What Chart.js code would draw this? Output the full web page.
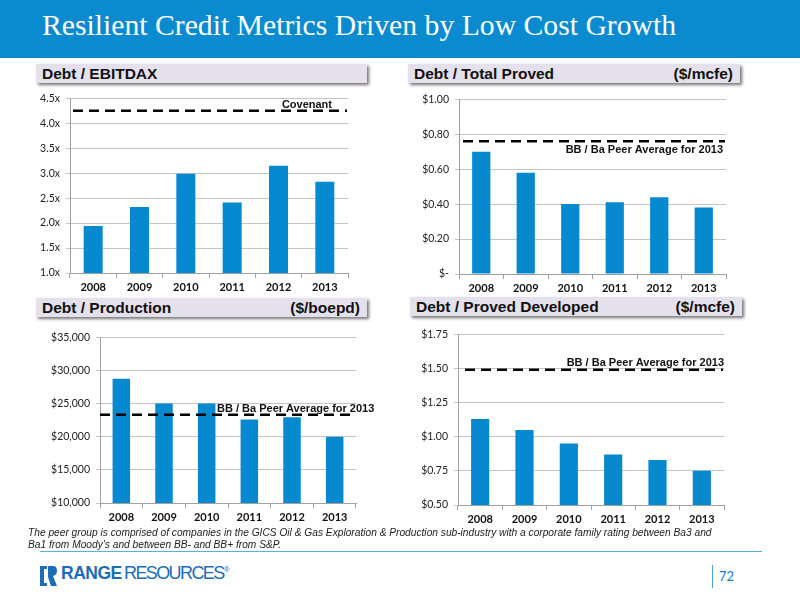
<!DOCTYPE html>
<html>
<head>
<meta charset="utf-8">
<script src="https://cdn.jsdelivr.net/npm/chart.js@4.4.1/dist/chart.umd.min.js"></script>
<style>
  body { margin: 0; background: #fff; }
  #slide { position: relative; width: 800px; height: 600px; overflow: hidden; background: #fff; font-family: "Liberation Sans", Arial, sans-serif; }
  #header { position: absolute; left: 0; top: 0; width: 800px; height: 58px; background: #0a8acf; }
  #header h1 { position: absolute; left: 42px; top: 9px; margin: 0; font: 29.7px "Liberation Serif", serif; color: #fff; font-weight: normal; white-space: nowrap; }
  .box { position: absolute; background: #e4e1ec; box-shadow: 2px 2px 3px rgba(0,0,0,0.55); font-weight: bold; font-size: 15.5px; color: #111; line-height: 19px; }
  .box .l { position: absolute; left: 6px; top: 0; }
  .box .r { position: absolute; right: 7px; top: 0; }
  .chart { position: absolute; }
  #note { position: absolute; left: 28px; top: 527px; width: 760px; font-style: italic; font-size: 10.2px; line-height: 11.5px; color: #222; white-space: nowrap; }
  #sep { position: absolute; left: 40px; top: 551px; width: 722px; height: 1px; background: #5aaee0; }
  #logo { position: absolute; left: 40px; top: 564px; height: 24px; color: #1b6db5; white-space: nowrap; }
  #logo .rg { position: absolute; left: 21px; top: -1px; font-weight: bold; font-size: 17.5px; letter-spacing: -0.5px; }
  #logo .rs { position: absolute; left: 84px; top: -1px; font-size: 18px; letter-spacing: -1.6px; }
  #pg { position: absolute; left: 712px; top: 565px; height: 23px; border-left: 1px solid #4aa3dc; padding-left: 6px; font: 13px Lato, sans-serif; color: #1b7cc0; line-height: 23px; }
</style>
</head>
<body>
<div id="slide">
  <div id="header"><h1>Resilient Credit Metrics Driven by Low Cost Growth</h1></div>

  <div class="box" style="left:36px;top:64px;width:331px;height:19px;"><span class="l">Debt / EBITDAX</span></div>
  <div class="box" style="left:408px;top:64px;width:332px;height:19px;"><span class="l">Debt / Total Proved</span><span class="r">($/mcfe)</span></div>
  <div class="box" style="left:36px;top:298px;width:331px;height:19px;"><span class="l">Debt / Production</span><span class="r">($/boepd)</span></div>
  <div class="box" style="left:410px;top:297px;width:332px;height:19px;"><span class="l">Debt / Proved Developed</span><span class="r">($/mcfe)</span></div>

  <div class="chart" style="left:20px;top:86px;"><canvas id="c1" width="345" height="210"></canvas></div>
  <div class="chart" style="left:405px;top:87px;"><canvas id="c2" width="340" height="210"></canvas></div>
  <div class="chart" style="left:30px;top:325px;"><canvas id="c3" width="355" height="202"></canvas></div>
  <div class="chart" style="left:400px;top:322px;"><canvas id="c4" width="345" height="206"></canvas></div>

  <div id="note">The peer group is comprised of companies in the GICS Oil &amp; Gas Exploration &amp; Production sub-industry with a corporate family rating between Ba3 and<br>Ba1 from Moody’s and between BB- and BB+ from S&amp;P.</div>
  <div id="sep"></div>

  <div id="logo">
    <svg width="17" height="20" viewBox="0 0 17 20" style="position:absolute;left:0;top:2px;">
      <path d="M0 0 H7 V3 H4 V17 H7 V20 H0 Z" fill="#1b6db5"/>
      <path d="M8 0 H13 Q17 0 17 5 Q17 9 13 10 L17 20 H11 L8 11 Z" fill="#1b6db5"/>
    </svg>
    <span class="rg">RANGE</span><span class="rs">RESOURCES<sup style="font-size:8px;">®</sup></span>
  </div>
  <div id="pg">72</div>
</div>

<script>
// categories and values
const years = ['2008', '2009', '2010', '2011', '2012', '2013'];

const debtToEbitdax = [1.94, 2.32, 2.99, 2.41, 3.15, 2.83];
const covenant = 4.25;

const debtToTotalProved = [0.70, 0.58, 0.40, 0.41, 0.44, 0.38];
const peerTotalProved = 0.76;

const debtToProduction = [28750, 25000, 25000, 22600, 22950, 20000];
const peerProduction = 23300;

const debtToProvedDeveloped = [1.13, 1.05, 0.95, 0.87, 0.83, 0.75];
const peerProvedDeveloped = 1.49;

const BAR_BLUE = '#0789d0';

// dashed reference line + its caption
const refLinePlugin = {
    id: 'refLine',
    afterDatasetsDraw(chart, args, opts) {
        const { ctx, chartArea } = chart;
        const y = chart.scales.y.getPixelForValue(opts.value);
        ctx.save();
        ctx.setLineDash([10, 6]);
        ctx.lineWidth = 2.5;
        ctx.strokeStyle = '#000';
        ctx.beginPath();
        ctx.moveTo(chartArea.left + opts.inset, y);
        ctx.lineTo(chartArea.right - 1, y);
        ctx.stroke();
        ctx.setLineDash([]);
        ctx.font = 'bold 11px "Liberation Sans", Arial, sans-serif';
        ctx.fillStyle = '#111';
        ctx.textBaseline = 'middle';
        ctx.textAlign = opts.align;
        const x = opts.align === 'right' ? chartArea.right + opts.dx : chartArea.left + opts.dx;
        ctx.fillText(opts.label, x, y + opts.dy);
        ctx.restore();
    }
};

function makeChart(id, canvasRect, plotRect, values, yScale, ref) {
    const xAxisHeight = 20;
    const yAxisWidth = plotRect.left - canvasRect.left;
    return new Chart(document.getElementById(id), {
        type: 'bar',
        data: {
            labels: years,
            datasets: [{
                data: values,
                backgroundColor: BAR_BLUE,
                barPercentage: 0.41,
                categoryPercentage: 1
            }]
        },
        options: {
            responsive: false,
            animation: false,
            layout: {
                padding: {
                    left: 0,
                    top: plotRect.top - canvasRect.top,
                    right: canvasRect.right - plotRect.right,
                    bottom: canvasRect.bottom - plotRect.bottom - xAxisHeight
                }
            },
            plugins: {
                legend: { display: false },
                tooltip: { enabled: false },
                refLine: ref
            },
            scales: {
                x: {
                    afterFit(scale) { scale.height = xAxisHeight; },
                    grid: { offset: true, drawOnChartArea: false, tickLength: 5, color: '#a0a0a0' },
                    border: { color: '#a0a0a0' },
                    ticks: {
                        padding: 3,
                        color: '#111',
                        font: { family: 'Lato', size: 11, weight: 'bold' }
                    }
                },
                y: {
                    min: yScale.min,
                    max: yScale.max,
                    afterFit(scale) { scale.width = yAxisWidth; },
                    grid: { color: '#c4c4c4', tickLength: 4 },
                    border: { color: '#a0a0a0' },
                    ticks: {
                        stepSize: yScale.step,
                        padding: 6,
                        color: '#222',
                        font: { family: 'Lato', size: 10.5 },
                        callback: yScale.format
                    }
                }
            }
        },
        plugins: [refLinePlugin]
    });
}

makeChart('c1',
    { left: 20, top: 86, right: 365, bottom: 296 },
    { left: 70, top: 91, right: 348, bottom: 273 },
    debtToEbitdax,
    { min: 1, max: 4.5, step: 0.5, format: v => v.toFixed(1) + 'x' },
    { value: covenant, label: 'Covenant', align: 'right', dx: -16, dy: -6, inset: 3 });

makeChart('c2',
    { left: 405, top: 87, right: 745, bottom: 297 },
    { left: 459, top: 92, right: 726, bottom: 274 },
    debtToTotalProved,
    { min: 0, max: 1, step: 0.2, format: v => v === 0 ? '$-' : '$' + v.toFixed(2) },
    { value: peerTotalProved, label: 'BB / Ba Peer Average for 2013', align: 'right', dx: -3, dy: 9, inset: 4 });

makeChart('c3',
    { left: 30, top: 325, right: 385, bottom: 527 },
    { left: 100, top: 337, right: 356, bottom: 503 },
    debtToProduction,
    { min: 10000, max: 35000, step: 5000, format: v => '$' + v.toLocaleString('en-US') },
    { value: peerProduction, label: 'BB / Ba Peer Average for 2013', align: 'left', dx: 117, dy: -6, inset: 0 });

makeChart('c4',
    { left: 400, top: 322, right: 745, bottom: 528 },
    { left: 458, top: 334, right: 724, bottom: 505 },
    debtToProvedDeveloped,
    { min: 0.5, max: 1.75, step: 0.25, format: v => '$' + v.toFixed(2) },
    { value: peerProvedDeveloped, label: 'BB / Ba Peer Average for 2013', align: 'right', dx: 0, dy: -7, inset: 7 });
</script>
</body>
</html>
